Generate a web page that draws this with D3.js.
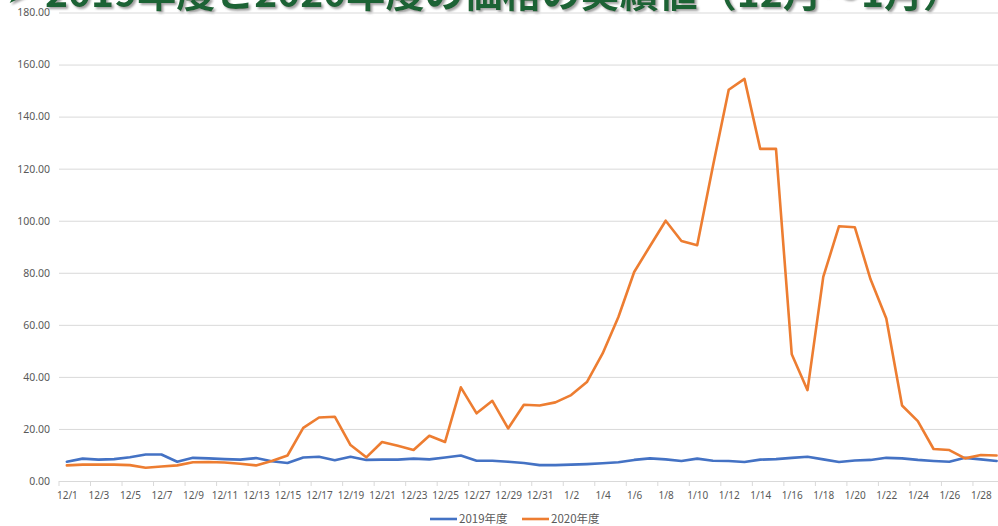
<!DOCTYPE html>
<html>
<head>
<meta charset="utf-8">
<script src="https://cdn.jsdelivr.net/npm/d3@7"></script>
<style>
  html, body { margin: 0; padding: 0; background: #ffffff; overflow: hidden; }
  svg { display: block; }
</style>
</head>
<body>
<svg id="chart" width="998" height="526"></svg>
<script>
// Daily dates, December 1 through January 31
const dates = [];
for (let d = 1; d <= 31; d++) dates.push("12/" + d);
for (let d = 1; d <= 31; d++) dates.push("1/" + d);

// Prices for fiscal 2019 (blue) and fiscal 2020 (orange), one value per day
const values2019 = [
  7.4, 8.6, 8.2, 8.4, 9.1, 10.2, 10.2, 7.4, 8.9, 8.7,
  8.4, 8.2, 8.8, 7.6, 6.9, 9.0, 9.3, 8.0, 9.3, 8.1,
  8.2, 8.2, 8.6, 8.3, 9.0, 9.8, 7.8, 7.8, 7.4, 6.9,
  6.1, 6.1, 6.3, 6.5, 6.8, 7.2, 8.1, 8.7, 8.3, 7.7,
  8.6, 7.8, 7.7, 7.3, 8.2, 8.4, 8.9, 9.3, 8.3, 7.3,
  7.9, 8.1, 8.9, 8.7, 8.1, 7.7, 7.4, 8.9, 8.3, 7.7
];
const values2020 = [
  6.0, 6.3, 6.3, 6.3, 6.1, 5.1, 5.6, 6.0, 7.2, 7.3,
  7.1, 6.6, 6.0, 7.7, 9.8, 20.4, 24.4, 24.7, 13.8, 9.1,
  15.0, 13.5, 11.9, 17.4, 15.0, 36.0, 26.0, 30.8, 20.2, 29.3,
  29.0, 30.2, 33.0, 38.0, 49.0, 63.0, 80.3, 90.2, 100.0, 92.2,
  90.6, 121.0, 150.3, 154.5, 127.6, 127.6, 48.7, 34.9, 78.4, 97.9,
  97.5, 77.5, 62.4, 29.0, 23.0, 12.3, 11.9, 8.7, 10.0, 9.8
];

const yTicks = [0, 20, 40, 60, 80, 100, 120, 140, 160, 180];
const seriesNames = ["2019年度", "2020年度"];
const seriesColors = ["#4472C4", "#ED7D31"];
const titleText = "2019年度と2020年度の価格の実績値（12月〜1月）";

const width = 998;
const svg = d3.select("#chart");

// Plot area (runs past the right edge of the page)
const plot = { left: 59, right: 1036, top: 12.5, bottom: 481 };

const x = d3.scalePoint()
  .domain(dates)
  .range([plot.left, plot.right])
  .padding(0.5);

const y = d3.scaleLinear()
  .domain([0, 180])
  .range([plot.bottom, plot.top]);

// Title banner
const defs = svg.append("defs");
const shadow = defs.append("filter").attr("id", "titleShadow")
  .attr("x", "-5%").attr("y", "-50%").attr("width", "110%").attr("height", "200%");
shadow.append("feDropShadow")
  .attr("dx", 2).attr("dy", 2).attr("stdDeviation", 1.2)
  .attr("flood-color", "#8a8a8a").attr("flood-opacity", 0.8);

svg.append("text")
  .attr("x", 7).attr("y", 3)
  .attr("font-family", "DejaVu Sans")
  .attr("font-size", 24)
  .attr("fill", "#1b6434")
  .attr("filter", "url(#titleShadow)")
  .text("➤");

svg.append("text")
  .attr("x", 45).attr("y", 7)
  .attr("font-family", "'Noto Sans CJK JP', sans-serif")
  .attr("font-weight", "bold")
  .attr("font-size", 38)
  .attr("fill", "#1b6434")
  .attr("textLength", 917)
  .attr("lengthAdjust", "spacingAndGlyphs")
  .attr("filter", "url(#titleShadow)")
  .text(titleText);

// Horizontal gridlines and y labels
const yAxis = d3.axisLeft(y)
  .tickValues(yTicks)
  .tickFormat(d3.format(".2f"))
  .tickSize(-(plot.right - plot.left))
  .tickPadding(9);

const gy = svg.append("g")
  .attr("transform", `translate(${plot.left},0)`)
  .call(yAxis);
gy.select(".domain").remove();
gy.selectAll(".tick line").attr("stroke", "#d9d9d9").attr("stroke-width", 1);
gy.selectAll(".tick text")
  .attr("fill", "#595959")
  .attr("font-family", "'Noto Sans', sans-serif")
  .attr("font-size", 10.5);

// Category axis: a label on every other day, only those on the page
const labelDates = dates.filter((d, i) => i % 2 === 0 && x(d) + 12 < width);
const xAxis = d3.axisBottom(x)
  .tickValues(labelDates)
  .tickSize(0)
  .tickPadding(11);

const gx = svg.append("g")
  .attr("transform", `translate(0,${plot.bottom})`)
  .call(xAxis);
gx.select(".domain").remove();
gx.selectAll(".tick text")
  .attr("fill", "#595959")
  .attr("font-family", "'Noto Sans', sans-serif")
  .attr("font-size", 10);

// Small tick marks at category boundaries
const step = x.step();
svg.append("g").selectAll("line")
  .data(dates.filter((d, i) => i % 2 === 0))
  .join("line")
  .attr("x1", d => x(d) - step / 2)
  .attr("x2", d => x(d) - step / 2)
  .attr("y1", plot.bottom)
  .attr("y2", plot.bottom + 5)
  .attr("stroke", "#d9d9d9")
  .attr("stroke-width", 1);

// Series lines
const line = d3.line()
  .x((d, i) => x(dates[i]))
  .y(d => y(d));

[values2019, values2020].forEach((vals, k) => {
  svg.append("path")
    .datum(vals)
    .attr("fill", "none")
    .attr("stroke", seriesColors[k])
    .attr("stroke-width", 2.6)
    .attr("stroke-linejoin", "round")
    .attr("stroke-linecap", "round")
    .attr("d", line);
});

// Legend
const legendItems = [
  { name: seriesNames[0], color: seriesColors[0], x: 430 },
  { name: seriesNames[1], color: seriesColors[1], x: 522 }
];
const lg = svg.append("g");
legendItems.forEach(item => {
  lg.append("line")
    .attr("x1", item.x).attr("x2", item.x + 27)
    .attr("y1", 519).attr("y2", 519)
    .attr("stroke", item.color).attr("stroke-width", 2.6);
  lg.append("text")
    .attr("x", item.x + 29).attr("y", 523)
    .attr("fill", "#595959")
    .attr("font-family", "'Noto Sans CJK JP', sans-serif")
    .attr("font-size", 11.5)
    .text(item.name);
});
</script>
</body>
</html>
